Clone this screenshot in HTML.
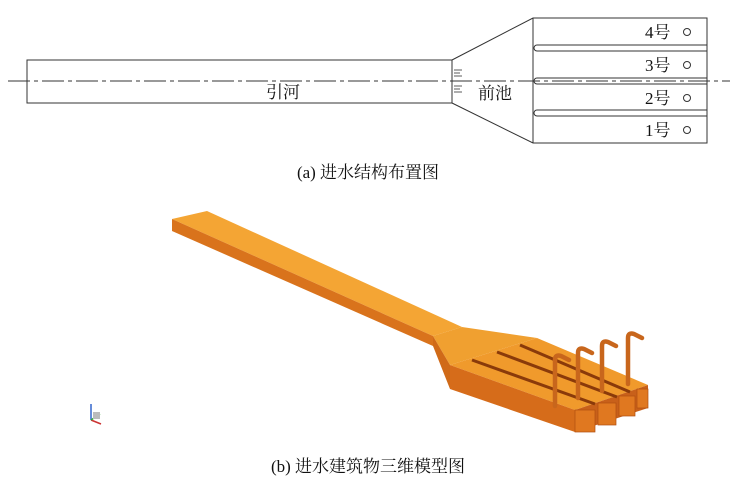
<!DOCTYPE html>
<html><head><meta charset="utf-8"><style>
body{margin:0;background:#fff;width:736px;height:489px;overflow:hidden}
svg text{font-family:"Liberation Serif","Noto Serif CJK SC",serif;fill:#111}
</style></head><body>
<svg width="736" height="489" viewBox="0 0 736 489" xmlns="http://www.w3.org/2000/svg">
<g stroke="#333" stroke-width="1" fill="none">
<rect x="27" y="60" width="425" height="43"/>
<polyline points="452,60 533,18 707,18 707,143 533,143 452,103"/>
<line x1="533" y1="18" x2="533" y2="143"/>
<path d="M707,45 H537 a3,3 0 0 0 0,6 H707"/>
<path d="M707,78 H537 a3,3 0 0 0 0,6 H707"/>
<path d="M707,110 H537 a3,3 0 0 0 0,6 H707"/>
<line x1="8" y1="81" x2="730" y2="81" stroke-dasharray="22,4,4,4"/>
<g stroke-width="0.8"><line x1="454" y1="70" x2="462" y2="70"/><line x1="454" y1="73" x2="460" y2="73"/><line x1="454" y1="76" x2="462" y2="76"/><line x1="454" y1="86" x2="462" y2="86"/><line x1="454" y1="89" x2="460" y2="89"/><line x1="454" y1="92" x2="462" y2="92"/></g>
<circle cx="687" cy="32" r="3.5"/><circle cx="687" cy="65" r="3.5"/><circle cx="687" cy="98" r="3.5"/><circle cx="687" cy="130" r="3.5"/>
</g>
<text x="266" y="98" font-size="17">引河</text>
<text x="478" y="99" font-size="17">前池</text>
<text x="645" y="38" font-size="17">4号</text>
<text x="645" y="71" font-size="17">3号</text>
<text x="645" y="104" font-size="17">2号</text>
<text x="645" y="136" font-size="17">1号</text>
<text x="368" y="178" font-size="17" text-anchor="middle">(a) 进水结构布置图</text>

<!-- 3D -->
<polygon points="172,219 207,211 462,327 433,336" fill="#f4a534"/>
<polygon points="172,219 433,336 433,346 172,231" fill="#d9731c"/>
<polygon points="433,336 462,327 537,338 450,365" fill="#f0a030"/>
<polygon points="433,336 450,365 450,389 433,346" fill="#d06a18"/>
<polygon points="450,365 537,338 648,385 575,410" fill="#f09a2c"/>
<polygon points="450,365 575,410 575,432 450,389" fill="#d66c1a"/>
<polygon points="575,410 648,385 648,408 575,432" fill="#c8601a"/>
<g stroke="#8a3a0a" stroke-width="3">
<line x1="472" y1="360" x2="595" y2="404"/>
<line x1="497" y1="352" x2="617" y2="397"/>
<line x1="520" y1="345" x2="630" y2="392"/>
</g>
<g fill="#e07820" stroke="#b04e10" stroke-width="0.7">
<rect x="575" y="410" width="20" height="22"/><rect x="598" y="403" width="18" height="22"/><rect x="619" y="396" width="16" height="20"/><rect x="637" y="389" width="11" height="19"/>
</g>
<g stroke="#c8661c" stroke-width="4.5" fill="none" stroke-linecap="round">
<path d="M555,406 V360 q0,-6 6,-4 l8,4"/>
<path d="M578,398 V353 q0,-6 6,-4 l8,4"/>
<path d="M602,391 V346 q0,-6 6,-4 l8,4"/>
<path d="M628,384 V338 q0,-6 6,-4 l8,4"/>
</g>
<g stroke-width="1.5" fill="none"><line x1="91" y1="420" x2="91" y2="404" stroke="#3366cc"/><line x1="91" y1="420" x2="101" y2="424" stroke="#cc3333"/><line x1="91" y1="420" x2="100" y2="414" stroke="#33aa33"/></g>
<rect x="93" y="412" width="7" height="7" fill="#bbb"/>
<text x="368" y="472" font-size="17" text-anchor="middle">(b) 进水建筑物三维模型图</text>
</svg>
</body></html>
